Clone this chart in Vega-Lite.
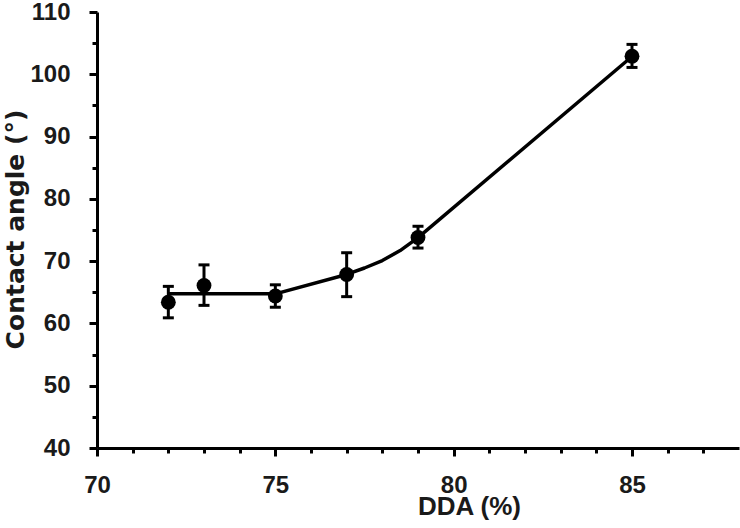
{
  "$schema": "https://vega.github.io/schema/vega-lite/v6.json",
  "width": 642,
  "height": 436,
  "autosize": {"type": "none"},
  "padding": {"left": 97, "top": 12, "right": 1, "bottom": 80},
  "background": "white",
  "config": {
    "view": {"stroke": null},
    "axis": {
      "domainColor": "black",
      "domainWidth": 3,
      "tickColor": "black",
      "tickWidth": 3,
      "grid": false,
      "labelFont": "Liberation Sans",
      "labelFontSize": 24,
      "labelFontWeight": "bold",
      "labelColor": "#1a1a1a",
      "titleFont": "Liberation Sans",
      "titleFontSize": 26,
      "titleFontWeight": "bold",
      "titleColor": "#1a1a1a"
    }
  },
  "resolve": {"axis": {"x": "independent", "y": "independent"}},
  "datasets": {
    "pts": [
      {"dda": 72, "angle": 63.4, "lo": 60.9, "hi": 65.95},
      {"dda": 73, "angle": 66.1, "lo": 62.9, "hi": 69.4},
      {"dda": 75, "angle": 64.4, "lo": 62.6, "hi": 66.2},
      {"dda": 77, "angle": 67.85, "lo": 64.3, "hi": 71.35},
      {"dda": 79, "angle": 73.8, "lo": 72.1, "hi": 75.6},
      {"dda": 85, "angle": 102.9, "lo": 101.1, "hi": 104.8}
    ],
    "fit": [
      {"dda": 72, "angle": 64.75},
      {"dda": 75, "angle": 64.75},
      {"dda": 77, "angle": 67.86},
      {"dda": 77.5, "angle": 68.9},
      {"dda": 78, "angle": 70.1},
      {"dda": 78.5, "angle": 71.7},
      {"dda": 79, "angle": 73.77},
      {"dda": 85, "angle": 102.85}
    ]
  },
  "layer": [
    {
      "data": {"name": "fit"},
      "mark": {"type": "line", "color": "black", "strokeWidth": 3.5, "strokeJoin": "round"},
      "encoding": {
        "x": {
          "field": "dda", "type": "quantitative",
          "scale": {"domain": [70, 88], "nice": false, "zero": false},
          "axis": {
            "orient": "bottom",
            "title": "DDA (%)",
            "values": [70, 75, 80, 85],
            "tickSize": 8,
            "labelPadding": 17,
            "labelFlush": false,
            "labelOverlap": false,
            "titleX": 372,
            "titleY": 66,
            "titleBaseline": "alphabetic",
            "titleAnchor": null,
            "titleAlign": "center"
          }
        },
        "y": {
          "field": "angle", "type": "quantitative",
          "scale": {"domain": [40, 110], "nice": false, "zero": false},
          "axis": {
            "orient": "left",
            "title": "Contact angle (°)",
            "titleFont": "DejaVu Sans",
            "titleFontSize": 25,
            "values": [40, 50, 60, 70, 80, 90, 100, 110],
            "tickSize": 8,
            "labelPadding": 19,
            "labelFlush": false,
            "labelOverlap": false,
            "titleX": -74,
            "titleY": 217,
            "titleAngle": -90,
            "titleBaseline": "alphabetic",
            "titleAlign": "center"
          }
        }
      }
    },
    {
      "data": {"name": "pts"},
      "mark": {"type": "rule", "color": "black", "strokeWidth": 3},
      "encoding": {
        "x": {
          "field": "dda", "type": "quantitative",
          "axis": {
            "orient": "bottom",
            "title": null,
            "labels": false,
            "domain": false,
            "values": [71, 72, 73, 74, 76, 77, 78, 79, 81, 82, 83, 84, 86, 87],
            "tickSize": 5
          }
        },
        "y": {
          "field": "lo", "type": "quantitative",
          "axis": {
            "orient": "left",
            "title": null,
            "labels": false,
            "domain": false,
            "values": [45, 55, 65, 75, 85, 95, 105],
            "tickSize": 5
          }
        },
        "y2": {"field": "hi"}
      }
    },
    {
      "data": {"name": "pts"},
      "mark": {"type": "tick", "color": "black", "orient": "horizontal", "size": 11, "thickness": 3, "opacity": 1},
      "encoding": {
        "x": {"field": "dda", "type": "quantitative", "axis": null},
        "y": {"field": "lo", "type": "quantitative", "axis": null}
      }
    },
    {
      "data": {"name": "pts"},
      "mark": {"type": "tick", "color": "black", "orient": "horizontal", "size": 11, "thickness": 3, "opacity": 1},
      "encoding": {
        "x": {"field": "dda", "type": "quantitative", "axis": null},
        "y": {"field": "hi", "type": "quantitative", "axis": null}
      }
    },
    {
      "data": {"name": "pts"},
      "mark": {"type": "point", "filled": true, "color": "black", "size": 220, "opacity": 1},
      "encoding": {
        "x": {"field": "dda", "type": "quantitative", "axis": null},
        "y": {"field": "angle", "type": "quantitative", "axis": null}
      }
    }
  ]
}
